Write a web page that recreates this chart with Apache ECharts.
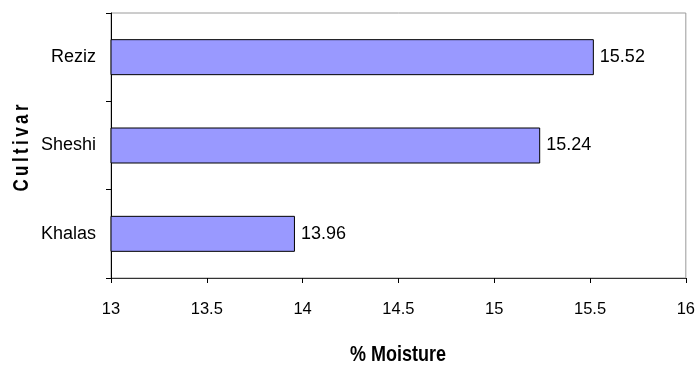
<!DOCTYPE html>
<html>
<head>
<meta charset="utf-8">
<script src="https://cdn.jsdelivr.net/npm/echarts@6/dist/echarts.min.js"></script>
<style>
  html, body { margin: 0; padding: 0; background: #fff; }
  #chart { width: 698px; height: 366px; }
</style>
</head>
<body>
<div id="chart"></div>
<script>
// values, bottom to top as drawn
const cultivars = ["Khalas", "Sheshi", "Reziz"];
const moisture = [13.96, 15.24, 15.52];

const chart = echarts.init(document.getElementById("chart"), null, { renderer: "canvas" });

const font = "'Liberation Sans', Arial, sans-serif";

chart.setOption({
    backgroundColor: "#fff",
    animation: false,
    grid: {
        left: 111,
        right: 11,
        top: 13,
        bottom: 88,
        show: true,
        borderColor: "#9a9a9a",
        borderWidth: 1,
        backgroundColor: "transparent",
    },
    xAxis: {
        type: "value",
        min: 13,
        max: 16,
        interval: 0.5,
        axisLine: { show: true, lineStyle: { color: "#333", width: 1 } },
        axisTick: { show: true, length: 5, lineStyle: { color: "#000" } },
        splitLine: { show: false },
        axisLabel: { color: "#000", fontSize: 16.5, fontFamily: font, margin: 23 },
    },
    yAxis: {
        type: "category",
        data: cultivars,
        axisLine: { show: true, lineStyle: { color: "#000", width: 1 } },
        axisTick: { show: true, length: 5, lineStyle: { color: "#000" } },
        axisLabel: { color: "#000", fontSize: 18, fontFamily: font, margin: 15 },
    },
    series: [
        {
            type: "bar",
            data: moisture,
            barWidth: 36,
            itemStyle: { color: "#9999ff", borderColor: "#000", borderWidth: 1 },
            label: {
                show: true,
                position: "right",
                distance: 6,
                color: "#000",
                fontSize: 18,
                fontFamily: font,
                formatter: (p) => p.value.toFixed(2),
            },
        },
    ],
    graphic: [
        {
            type: "text",
            x: 22,
            y: 148,
            rotation: Math.PI / 2,
            scaleY: 1.3,
            style: {
                text: "C\u2009u\u2009l\u2009t\u2009i\u2009v\u2009a\u2009r",
                font: "bold 17px " + font,
                fill: "#000",
                textAlign: "center",
                textVerticalAlign: "middle",
            },
        },
        {
            type: "text",
            x: 398,
            y: 355,
            scaleY: 1.2,
            style: {
                text: "% Moisture",
                font: "bold 18px " + font,
                fill: "#000",
                textAlign: "center",
                textVerticalAlign: "middle",
            },
        },
    ],
});
</script>
</body>
</html>
